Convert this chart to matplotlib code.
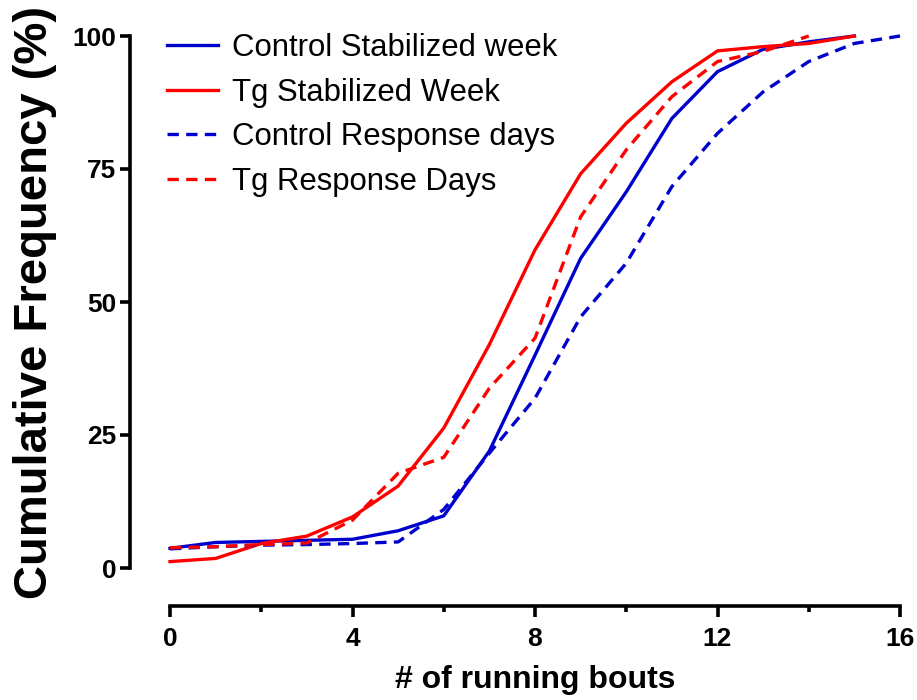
import matplotlib
matplotlib.use('Agg')
import matplotlib.pyplot as plt

# cumulative frequency (%) per number of running bouts
bouts_ctrl_stab = [0, 1, 2, 3, 4, 5, 6, 7, 8, 9, 10, 11, 12, 13, 14, 15]
ctrl_stab = [3.7, 4.8, 5.0, 5.2, 5.4, 7.0, 9.8, 22.0, 40.0, 58.2, 70.7, 84.5, 93.3, 97.5, 98.9, 100.0]

bouts_tg_stab = [0, 1, 2, 3, 4, 5, 6, 7, 8, 9, 10, 11, 12, 13, 14, 15]
tg_stab = [1.2, 1.8, 4.6, 6.0, 9.6, 15.4, 26.3, 42.0, 59.8, 74.1, 83.6, 91.4, 97.2, 98.0, 98.6, 100.0]

bouts_ctrl_resp = [0, 1, 2, 3, 4, 5, 6, 7, 8, 9, 10, 11, 12, 13, 14, 15, 16]
ctrl_resp = [3.6, 4.0, 4.3, 4.4, 4.6, 4.9, 11.0, 21.6, 31.9, 47.2, 57.3, 71.7, 81.7, 89.5, 95.2, 98.6, 100.0]

bouts_tg_resp = [0, 1, 2, 3, 4, 5, 6, 7, 8, 9, 10, 11, 12, 13, 14]
tg_resp = [3.8, 4.0, 4.4, 4.7, 9.0, 17.8, 20.8, 33.8, 43.2, 66.0, 78.6, 88.6, 95.2, 97.1, 100.0]

labels = ['Control Stabilized week', 'Tg Stabilized Week',
          'Control Response days', 'Tg Response Days']
x_ticks = [0, 4, 8, 12, 16]
y_ticks = [0, 25, 50, 75, 100]

plt.rcParams['font.family'] = ['Liberation Sans', 'DejaVu Sans']

blue = '#0000CC'
red = '#FF0000'
lw = 2.4
dash = (0, (3.4, 2.2))

fig = plt.figure(figsize=(9.17, 7.0), dpi=100)
ax = fig.add_axes([170 / 917, 132 / 700, 730 / 917, 532 / 700])

ax.plot(bouts_ctrl_stab, ctrl_stab, color=blue, lw=lw, label=labels[0], clip_on=False)
ax.plot(bouts_tg_stab, tg_stab, color=red, lw=lw, label=labels[1], clip_on=False)
ax.plot(bouts_ctrl_resp, ctrl_resp, color=blue, lw=lw, ls=dash, label=labels[2], clip_on=False)
ax.plot(bouts_tg_resp, tg_resp, color=red, lw=lw, ls=dash, label=labels[3], clip_on=False)

ax.set_xlim(0, 16)
ax.set_ylim(0, 100)

# Prism-like detached axes
for side in ['top', 'right']:
    ax.spines[side].set_visible(False)
ax.spines['left'].set_position(('outward', 28.5))
ax.spines['bottom'].set_position(('outward', 27.5))
ax.spines['left'].set_linewidth(2.6)
ax.spines['bottom'].set_linewidth(2.6)
ax.spines['left'].set_bounds(0, 100)
ax.spines['bottom'].set_bounds(0, 16)

ax.set_xticks(x_ticks)
ax.set_xticks([2, 6, 10, 14], minor=True)
ax.set_yticks(y_ticks)
ax.tick_params(axis='both', which='major', width=2.6, length=7, labelsize=19, pad=3)
ax.tick_params(axis='x', which='major', length=8, pad=7)
ax.tick_params(axis='x', which='minor', width=2.6, length=4)
for t in ax.get_xticklabels() + ax.get_yticklabels():
    t.set_fontweight('bold')

ax.set_xlabel('# of running bouts', fontsize=23, fontweight='bold', labelpad=10)
ax.set_ylabel('Cumulative Frequency (%)', fontsize=34, fontweight='bold', labelpad=11)

ax.legend(loc='upper left', bbox_to_anchor=(167 / 917, 1 - 33 / 700),
          bbox_transform=fig.transFigure, frameon=False, fontsize=22.4,
          handlelength=1.64, handletextpad=0.45, labelspacing=0.47,
          borderpad=0, borderaxespad=0)

fig.savefig('out.png', dpi=100)
